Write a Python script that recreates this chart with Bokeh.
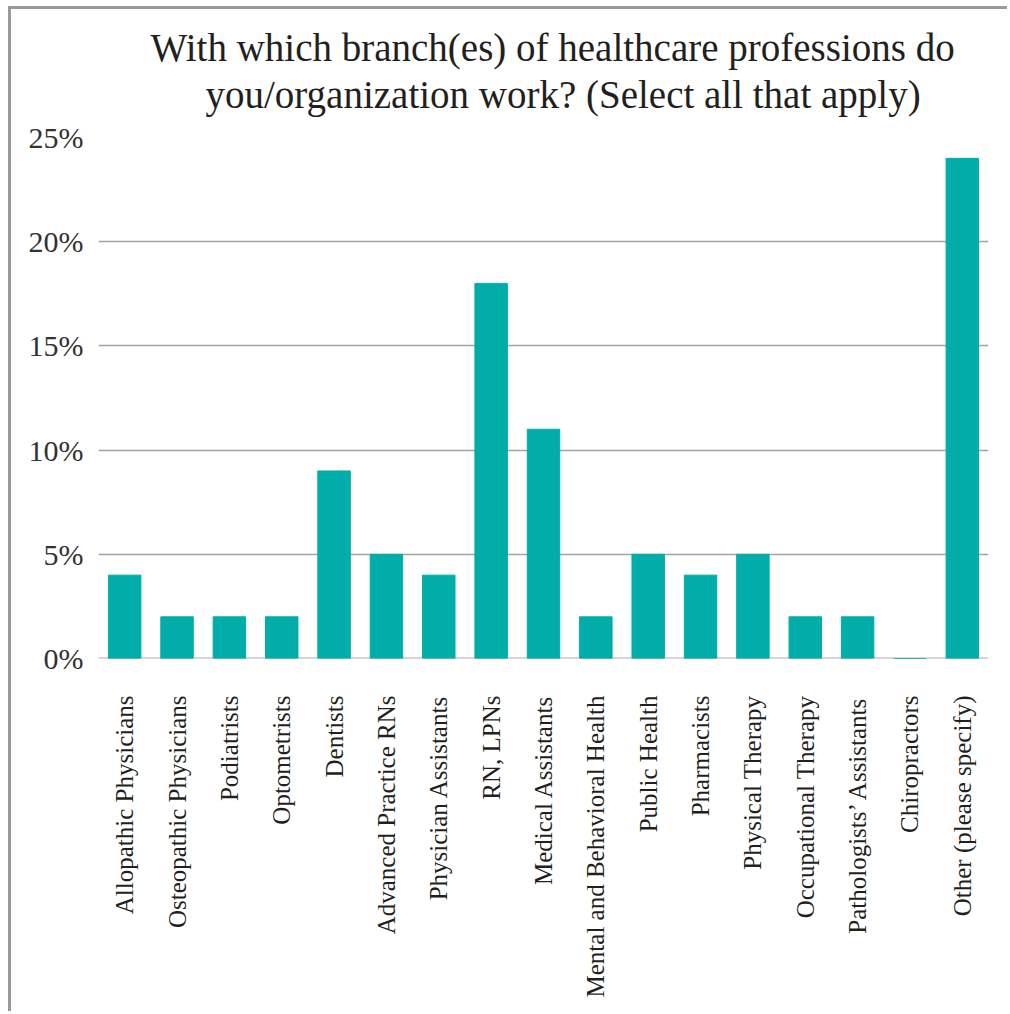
from bokeh.plotting import figure
from bokeh.models import Title, FixedTicker, Span
from bokeh.embed import file_html
from bokeh.resources import INLINE

categories = [
    "Allopathic Physicians", "Osteopathic Physicians", "Podiatrists", "Optometrists",
    "Dentists", "Advanced Practice RNs", "Physician Assistants", "RN, LPNs",
    "Medical Assistants", "Mental and Behavioral Health", "Public Health",
    "Pharmacists", "Physical Therapy", "Occupational Therapy",
    "Pathologists\u2019 Assistants", "Chiropractors", "Other (please specify)",
]
values = [4, 2, 2, 2, 9, 5, 4, 18, 11, 2, 5, 4, 5, 2, 2, 0, 24]
y_ticks = [0, 5, 10, 15, 20, 25]
y_tick_labels = ["0%", "5%", "10%", "15%", "20%", "25%"]
title_lines = ["With which branch(es) of healthcare professions do",
               "you/organization work? (Select all that apply)"]

SERIF = "Liberation Serif"
TEAL = "#00ADA9"

p = figure(
    x_range=categories, y_range=(0, 25),
    width=999, height=1005,
    output_backend="svg", toolbar_location=None,
    min_border_left=87, min_border_right=22,
    min_border_top=128, min_border_bottom=356,
)
p.margin = (6, 0, 0, 8)
p.styles = {"border-left": "3px solid #9a9a9a", "border-top": "3px solid #9a9a9a"}

p.add_layout(Span(location=0, dimension="width", line_color="#b0b0b0",
                  line_width=2, level="underlay"))

p.vbar(x=categories, top=values, width=0.62, fill_color=TEAL,
       line_color=TEAL, line_width=1)

p.add_layout(Title(text=title_lines[1], text_font=SERIF, text_font_size="39px",
                   text_font_style="normal", text_color="#231f20", align="left",
                   offset=107, standoff=44), "above")
p.add_layout(Title(text=title_lines[0], text_font=SERIF, text_font_size="39px",
                   text_font_style="normal", text_color="#231f20", align="left",
                   offset=52, standoff=-40), "above")

p.outline_line_color = None
p.background_fill_color = "white"
p.border_fill_color = "white"

p.xgrid.grid_line_color = None
p.ygrid.grid_line_color = "#a3a3a3"
p.ygrid.grid_line_width = 1.3
p.ygrid.ticker = FixedTicker(ticks=y_ticks[1:])

p.yaxis.ticker = FixedTicker(ticks=y_ticks)
p.yaxis.major_label_overrides = dict(zip(y_ticks, y_tick_labels))
p.yaxis.axis_line_color = None
p.yaxis.major_tick_line_color = None
p.yaxis.minor_tick_line_color = None
p.yaxis.major_label_text_font = SERIF
p.yaxis.major_label_text_font_size = "30px"
p.yaxis.major_label_text_color = "#333333"
p.yaxis.major_label_standoff = 9

p.xaxis.axis_line_color = None
p.xaxis.major_tick_line_color = None
p.xaxis.minor_tick_line_color = None
p.xaxis.major_label_orientation = 1.5708
p.xaxis.major_label_text_font = SERIF
p.xaxis.major_label_text_font_size = "25px"
p.xaxis.major_label_text_color = "#231f20"
p.xaxis.major_label_standoff = 31

open("out.html", "w").write(file_html(p, INLINE))
